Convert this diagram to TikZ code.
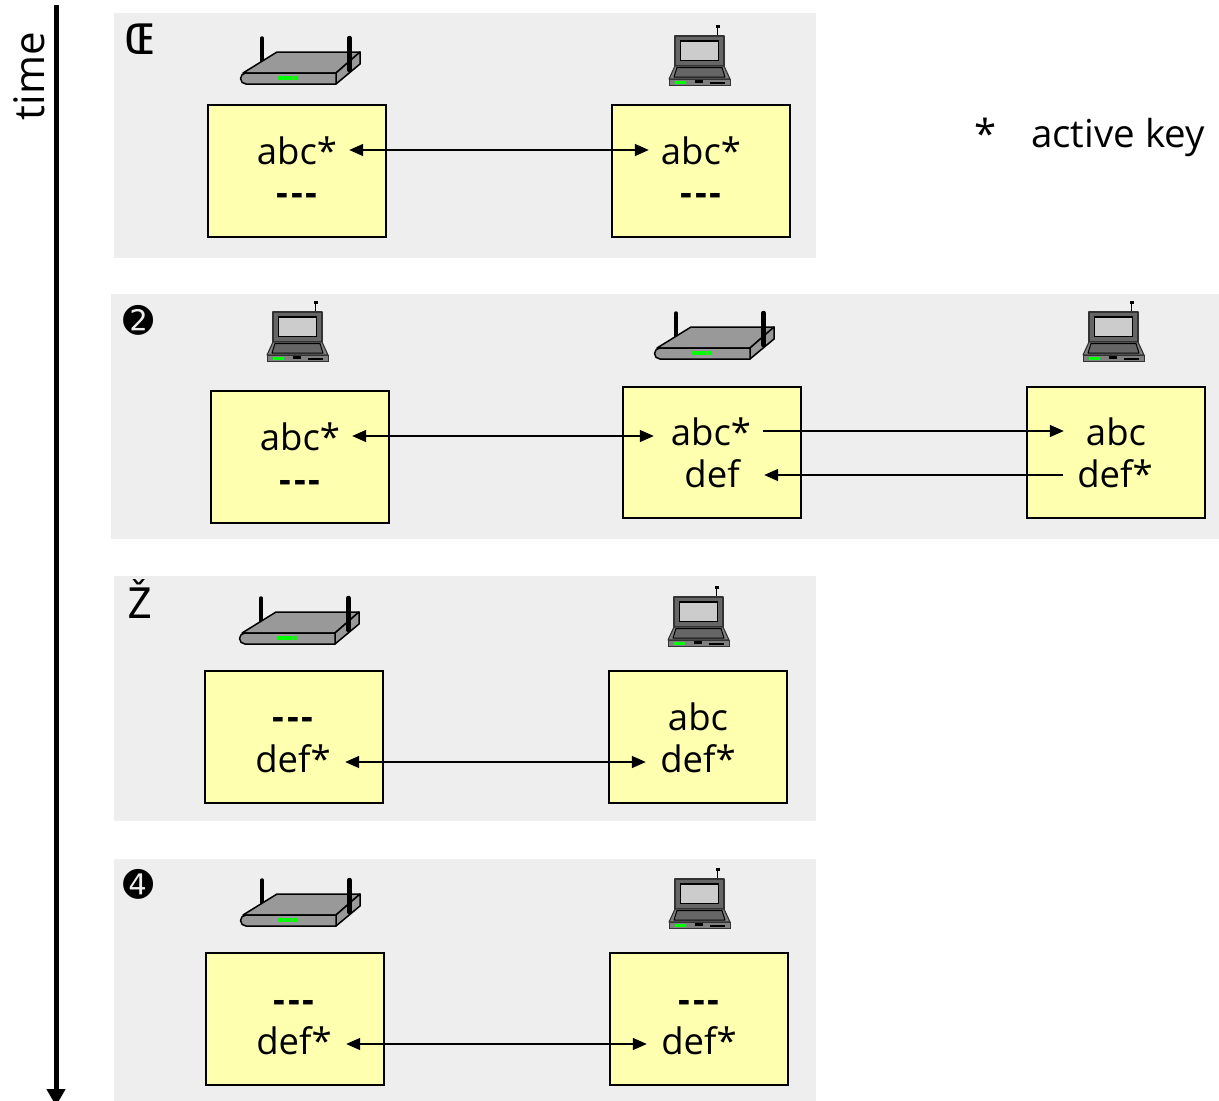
\documentclass[tikz,border=0pt]{standalone}
\usepackage{fontspec}
\setmainfont{Open Sans}
\newfontfamily\dingfont{DejaVu Sans}
\newfontfamily\markfont{DejaVu Sans Mono}
\usetikzlibrary{arrows.meta}
\definecolor{panelgray}{HTML}{EEEEEE}
\definecolor{boxyellow}{HTML}{FFFFB0}
\definecolor{bodygray}{HTML}{999999}
\definecolor{lapdark}{HTML}{666666}
\definecolor{lapmid}{HTML}{808080}
\definecolor{lapscreen}{HTML}{CCCCCC}
\definecolor{ledgreen}{HTML}{00FF00}
\newcommand{\nokey}{\bfseries-\kern2.5pt-\kern2.5pt-}
\tikzset{
  x=1pt,y=-1pt,
  panel/.style={fill=panelgray,draw=none},
  keybox/.style={fill=boxyellow,draw=black,line width=1.6pt},
  keytext/.style={font=\fontsize{36.5}{36.5}\selectfont,minimum width=104pt,inner sep=0pt,anchor=center,text height=28pt,text depth=0pt,align=center},
  link/.style={line width=1.5pt,-{Triangle[length=14pt,width=12pt]}},
  biglink/.style={line width=1.5pt,{Triangle[length=14pt,width=12pt]}-{Triangle[length=14pt,width=12pt]}},
  stepmark/.style={font=\markfont\fontsize{42}{42}\selectfont,inner sep=0pt},
  stepdisc/.style={font=\dingfont\fontsize{36}{36}\selectfont,inner sep=0pt},
  router/.pic={
    \draw[black,line width=3.5pt,line cap=round] (21,2) -- (21,26);
    \draw[black,line width=1.5pt,fill=bodygray,line join=round] (2,37) -- (36,16) -- (119,16) -- (95,37) -- cycle;
    \draw[black,line width=1.5pt,fill=bodygray,line join=round] (95,37) -- (119,16) -- (119,28) -- (95,48) -- cycle;
    \draw[black,line width=1.5pt,fill=bodygray,line join=round] (5,37) -- (95,37) -- (95,48) -- (5,48) arc[start angle=270,end angle=90,radius=5.5pt] -- cycle;
    \draw[black,line width=4.5pt,line cap=round] (108.5,2) -- (108.5,34);
    \fill[ledgreen] (37,40) rectangle (52,43.5);
    \fill[ledgreen] (53,40) rectangle (57,43.5);
  },
  laptop/.pic={
    \draw[black,line width=0.8pt] (48.5,11) -- (48.5,1);
    \fill[black] (47,0) rectangle (50.5,2.5);
    \draw[black!80,line width=1.1pt,fill=lapdark,line join=round] (6,11) rectangle (55,41);
    \draw[black,line width=1.1pt,fill=lapscreen] (11.5,16) rectangle (49.5,35.5);
    \draw[black!80,line width=1.1pt,fill=lapmid,line join=round] (6,41) -- (0,54) -- (61,54) -- (55,41) -- cycle;
    \draw[black,line width=1pt,fill=lapdark,line join=round] (8,42.5) -- (53,42.5) -- (56,52) -- (5,52) -- cycle;
    \draw[black!80,line width=1pt,fill=lapmid] (0,54) rectangle (61,60);
    \fill[ledgreen] (6,56) rectangle (17,58.5);
    \fill[black] (26,54.5) rectangle (34,58);
    \fill[black] (41,56.5) rectangle (56,58.5);
  }
}
\begin{document}
\begin{tikzpicture}
\useasboundingbox (0,0) rectangle (1219,1101);
\clip (0,0) rectangle (1219,1101);
% panels
\fill[panel] (114,13) rectangle (816,258);
\fill[panel] (111,294) rectangle (1219,539);
\fill[panel] (114,576) rectangle (816,821);
\fill[panel] (114,859) rectangle (816,1101);
% time axis
\coordinate (axistop) at (56,5);
\coordinate (axisend) at (56,1106);
\draw[line width=5pt,-{Triangle[length=17pt,width=18pt]}] (axistop) -- (axisend);
\node[rotate=90,font=\fontsize{42}{42}\selectfont,inner sep=0pt] (timelabel) at (29,76) {time};
% legend
\node[font=\fontsize{40}{40}\selectfont,inner sep=0pt] (star) at (986,133) {*};
\node[font=\fontsize{38.5}{38.5}\selectfont,inner sep=0pt,anchor=west] (legend) at (1031,137) {active key};
% step marks
\node[stepmark,xscale=1.1] (s1) at (139,39) {Œ};
\node[stepdisc] (s2) at (139,320) {➋};
\node[stepmark] (s3) at (139,599) {Ž};
\node[stepdisc] (s4) at (139,884) {➍};
% panel 1
\draw[keybox] (208,105) rectangle (386,237);
\draw[keybox] (612,105) rectangle (790,237);
\pic at (241,36) {router};
\pic at (669,25) {laptop};
\node[keytext] (a1) at (297,150) {abc*};
\node[keytext] (a2) at (297,191) {\nokey};
\node[keytext] (b1) at (701,150) {abc*};
\node[keytext] (b2) at (701,191) {\nokey};
\draw[biglink] (a1.east) -- (b1.west);
% panel 2
\draw[keybox] (211,391) rectangle (389,523);
\draw[keybox] (623,387) rectangle (801,518);
\draw[keybox] (1027,387) rectangle (1205,518);
\pic at (267,301) {laptop};
\pic at (655,311) {router};
\pic at (1083,301) {laptop};
\node[keytext] (c1) at (300,436) {abc*};
\node[keytext] (c2) at (300,478) {\nokey};
\node[keytext] (d1) at (711,431) {abc*};
\node[keytext] (d2) at (712,473) {def};
\node[keytext] (e1) at (1116,431) {abc};
\node[keytext] (e2) at (1115,473) {def*};
\draw[biglink] (c1.east) -- ([xshift=-5pt]c1.east -| d1.west);
\draw[link] (d1.east) -- (e1.west);
\draw[link] ([yshift=-2pt]e2.west) -- ([yshift=-2pt]d2.east);
% panel 3
\draw[keybox] (205,671) rectangle (383,803);
\draw[keybox] (609,671) rectangle (787,803);
\pic at (240,596) {router};
\pic at (668,586) {laptop};
\node[keytext] (f1) at (293,715) {\nokey};
\node[keytext] (f2) at (293,758) {def*};
\node[keytext] (g1) at (698,716) {abc};
\node[keytext] (g2) at (698,758) {def*};
\draw[biglink] ([yshift=-4pt]f2.east) -- ([yshift=-4pt]g2.west);
% panel 4
\draw[keybox] (206,953) rectangle (384,1085);
\draw[keybox] (610,953) rectangle (788,1085);
\pic at (241,878) {router};
\pic at (669,868) {laptop};
\node[keytext] (h1) at (294,998) {\nokey};
\node[keytext] (h2) at (294,1040) {def*};
\node[keytext] (i1) at (699,998) {\nokey};
\node[keytext] (i2) at (699,1040) {def*};
\draw[biglink] ([yshift=-4pt]h2.east) -- ([yshift=-4pt]i2.west);
\end{tikzpicture}
\end{document}
